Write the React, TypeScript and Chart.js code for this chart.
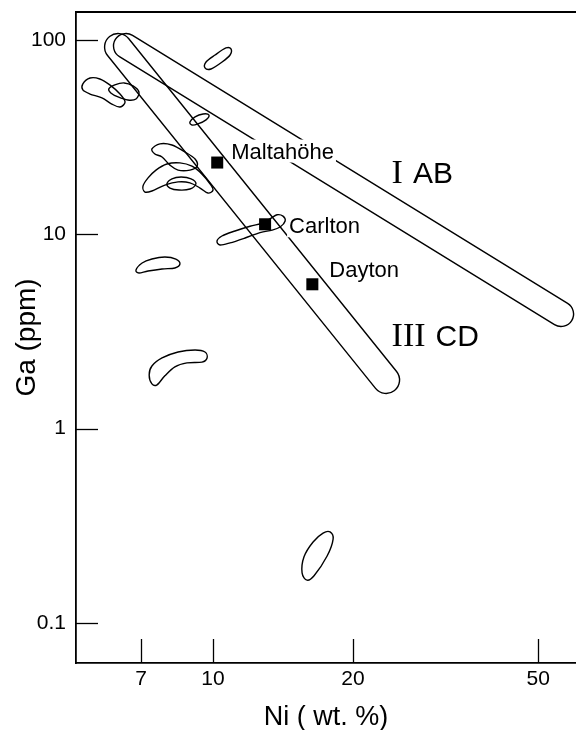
import React, { useEffect, useRef } from "react";
import { Chart, registerables } from "chart.js";

Chart.register(...registerables);

// ---------- data ----------
const niTicks = [7, 10, 20, 50];
const gaTicks = [0.1, 1, 10, 100];
const niRange = [5.075, 60.3];
const gaRange = [0.0622, 139.3];

// named meteorites (black squares)
const siteNames = ["Maltahöhe", "Carlton", "Dayton"];
const siteNi = [10.21, 12.94, 16.35];
const siteGa = [23.4, 11.26, 5.53];

// group trend bands (cap centres at both ends)
const groupRoman = ["I", "III"];
const groupLetters = ["AB", "CD"];
const groupStartNi = [6.5, 6.25];
const groupStartGa = [93.1, 92.0];
const groupEndNi = [56.0, 23.55];
const groupEndGa = [3.89, 1.78];
const groupLabelNi = [24.2, 24.2];
const groupLabelGa = [18.4, 2.65];

// other group fields: outline vertices [Ni, Ga]
const field1 = [[10.93, 89.9], [10.88, 83.7], [10.46, 77.0], [9.9, 70.9], [9.61, 71.8], [9.66, 77.0], [10.1, 83.7], [10.66, 91.0]];
const field2 = [[5.25, 59.4], [5.44, 63.7], [5.71, 63.0], [6.0, 58.7], [6.31, 52.7], [6.47, 48.0], [6.31, 45.2], [6.06, 46.8], [5.77, 50.3], [5.44, 52.7], [5.25, 55.3]];
const field3 = [[5.97, 56.0], [6.15, 58.7], [6.44, 60.1], [6.73, 58.0], [6.93, 54.0], [6.83, 49.7], [6.56, 49.1], [6.25, 50.9], [6.03, 53.4]];
const field4 = [[8.92, 37.8], [9.15, 40.2], [9.52, 41.6], [9.8, 41.1], [9.66, 38.8], [9.28, 37.0], [9.01, 36.5]];
const field5 = [[7.39, 27.5], [7.69, 29.2], [8.16, 28.8], [8.71, 26.5], [9.15, 24.4], [9.24, 22.4], [8.92, 21.4], [8.41, 21.4], [8.08, 22.7], [7.77, 25.0], [7.5, 25.9]];
const field6 = [[7.07, 17.7], [7.25, 19.5], [7.54, 21.4], [7.96, 23.0], [8.49, 23.3], [9.01, 22.4], [9.47, 20.4], [9.85, 18.2], [10.0, 16.9], [9.75, 16.3], [9.38, 17.3], [8.92, 18.4], [8.41, 18.6], [7.88, 17.9], [7.39, 16.7], [7.14, 16.5]];
const field7 = [[7.96, 18.2], [8.16, 19.3], [8.54, 19.7], [8.97, 19.3], [9.19, 18.2], [8.92, 17.1], [8.45, 16.9], [8.08, 17.3]];
const field8 = [[10.2, 9.24], [10.45, 9.8], [11.15, 10.4], [12.01, 11.0], [12.75, 11.4], [13.26, 12.0], [13.73, 12.6], [14.14, 12.4], [14.29, 11.7], [13.94, 10.9], [13.39, 10.5], [12.62, 10.2], [11.72, 9.57], [10.88, 9.03], [10.35, 8.81]];
const field9 = [[6.83, 6.55], [7.04, 7.12], [7.39, 7.46], [7.88, 7.64], [8.32, 7.46], [8.49, 7.04], [8.28, 6.71], [7.77, 6.63], [7.25, 6.47], [6.93, 6.32]];
const field10 = [[7.39, 1.7], [7.29, 1.89], [7.39, 2.1], [7.77, 2.31], [8.41, 2.48], [9.15, 2.54], [9.61, 2.48], [9.71, 2.31], [9.47, 2.2], [8.79, 2.18], [8.28, 2.08], [7.88, 1.87], [7.58, 1.68]];
const field11 = [[17.85, 0.294], [18.12, 0.27], [17.59, 0.221], [16.49, 0.175], [15.93, 0.166], [15.54, 0.181], [15.69, 0.219], [16.41, 0.261], [17.24, 0.29]];
const fields = [field1, field2, field3, field4, field5, field6, field7, field8, field9, field10, field11];

// ---------- styles ----------
const SANS = "'Liberation Sans', Arial, Helvetica, sans-serif";
const SERIF = "'Liberation Serif', 'Times New Roman', serif";
const W = 576;
const H = 730;
const SITE_DX = [14, 24, 17];
const SITE_DY = [-4, 9, -7];
const BAND_R = [12.5, 13.5];
const GROUP_GAP = 10;

const drawPlugin = {
  id: "gaNiFields",
  beforeDatasetsDraw(chart: any) {
    const { ctx, chartArea: a, scales } = chart;
    const x = scales.x;
    const y = scales.y;
    ctx.save();
    ctx.beginPath();
    ctx.rect(a.left, a.top, a.right - a.left, a.bottom - a.top);
    ctx.clip();
    ctx.strokeStyle = "#000";
    ctx.lineWidth = 1.4;
    ctx.lineJoin = "round";
    // bands
    groupStartNi.forEach((_, i) => {
      const ax = x.getPixelForValue(groupStartNi[i]);
      const ay = y.getPixelForValue(groupStartGa[i]);
      const bx = x.getPixelForValue(groupEndNi[i]);
      const by = y.getPixelForValue(groupEndGa[i]);
      const r = BAND_R[i];
      const t = Math.atan2(by - ay, bx - ax);
      ctx.beginPath();
      ctx.arc(ax, ay, r, t + Math.PI / 2, t + (3 * Math.PI) / 2);
      ctx.arc(bx, by, r, t - Math.PI / 2, t + Math.PI / 2);
      ctx.closePath();
      ctx.stroke();
    });
    // fields (closed smooth outlines)
    fields.forEach((f) => {
      const p = f.map(([ni, ga]) => [x.getPixelForValue(ni), y.getPixelForValue(ga)]);
      const n = p.length;
      ctx.beginPath();
      ctx.moveTo(p[0][0], p[0][1]);
      for (let i = 0; i < n; i++) {
        const p0 = p[(i - 1 + n) % n];
        const p1 = p[i];
        const p2 = p[(i + 1) % n];
        const p3 = p[(i + 2) % n];
        ctx.bezierCurveTo(
          p1[0] + (p2[0] - p0[0]) / 6,
          p1[1] + (p2[1] - p0[1]) / 6,
          p2[0] - (p3[0] - p1[0]) / 6,
          p2[1] - (p3[1] - p1[1]) / 6,
          p2[0],
          p2[1]
        );
      }
      ctx.closePath();
      ctx.stroke();
    });
    ctx.restore();
  },
  afterDatasetsDraw(chart: any) {
    const { ctx, scales } = chart;
    const x = scales.x;
    const y = scales.y;
    ctx.save();
    ctx.textBaseline = "alphabetic";
    ctx.textAlign = "left";
    // site labels with white knock-out
    ctx.font = `22px ${SANS}`;
    siteNames.forEach((name, i) => {
      const px = x.getPixelForValue(siteNi[i]) + SITE_DX[i];
      const py = y.getPixelForValue(siteGa[i]) + SITE_DY[i];
      const w = ctx.measureText(name).width;
      ctx.fillStyle = "#fff";
      ctx.fillRect(px - 2, py - 19, w + 4, 23);
      ctx.fillStyle = "#000";
      ctx.fillText(name, px, py);
    });
    // group labels
    groupRoman.forEach((roman, i) => {
      const px = x.getPixelForValue(groupLabelNi[i]);
      const py = y.getPixelForValue(groupLabelGa[i]);
      ctx.fillStyle = "#000";
      ctx.font = `34px ${SERIF}`;
      ctx.fillText(roman, px, py);
      const w = ctx.measureText(roman).width;
      ctx.font = `30px ${SANS}`;
      ctx.fillText(groupLetters[i], px + w + GROUP_GAP, py);
    });
    ctx.restore();
  },
  afterDraw(chart: any) {
    const { ctx, chartArea: a, scales } = chart;
    const x = scales.x;
    const y = scales.y;
    ctx.save();
    ctx.strokeStyle = "#000";
    ctx.lineWidth = 1.3;
    x.ticks.forEach((t: any) => {
      const px = Math.round(x.getPixelForValue(t.value)) + 0.5;
      ctx.beginPath();
      ctx.moveTo(px, a.bottom);
      ctx.lineTo(px, a.bottom - 24);
      ctx.stroke();
    });
    y.ticks.forEach((t: any) => {
      const py = Math.round(y.getPixelForValue(t.value)) + 0.5;
      ctx.beginPath();
      ctx.moveTo(a.left, py);
      ctx.lineTo(a.left + 22, py);
      ctx.stroke();
    });
    ctx.lineWidth = 1.8;
    ctx.beginPath();
    ctx.moveTo(a.left, a.top);
    ctx.lineTo(a.right, a.top);
    ctx.stroke();
    ctx.restore();
  },
};

export default function App() {
  const ref = useRef<HTMLCanvasElement | null>(null);
  useEffect(() => {
    document.body.style.margin = "0";
    const canvas = ref.current;
    if (!canvas) return;
    const chart = new Chart(canvas, {
      type: "scatter",
      data: {
        datasets: [
          {
            label: "meteorites",
            data: siteNi.map((v, i) => ({ x: v, y: siteGa[i] })),
            pointStyle: "rect",
            pointRadius: 8.5,
            pointHoverRadius: 8.5,
            backgroundColor: "#000",
            borderColor: "#000",
            borderWidth: 0,
          },
        ],
      },
      options: {
        responsive: false,
        animation: false,
        events: [],
        layout: { autoPadding: false, padding: { top: 12, left: 0, right: 0, bottom: 0 } },
        plugins: { legend: { display: false }, tooltip: { enabled: false } },
        scales: {
          x: {
            type: "logarithmic",
            position: "bottom",
            min: niRange[0],
            max: niRange[1],
            bounds: "data",
            afterBuildTicks: (s: any) => {
              s.ticks = niTicks.map((v) => ({ value: v }));
            },
            afterFit: (s: any) => {
              s.height = 67;
              s.paddingLeft = 0;
              s.paddingRight = 0;
            },
            grid: { display: false, drawTicks: false },
            border: { display: true, color: "#000", width: 1.8 },
            ticks: {
              color: "#000",
              font: { family: SANS, size: 21 },
              padding: 4,
              maxRotation: 0,
              autoSkip: false,
              callback: (v: any) => String(v),
            },
            title: {
              display: true,
              text: "Ni ( wt. %)",
              color: "#000",
              font: { family: SANS, size: 27, lineHeight: 1 },
              padding: { top: 0, bottom: -1 },
            },
          },
          y: {
            type: "logarithmic",
            position: "left",
            min: gaRange[0],
            max: gaRange[1],
            bounds: "data",
            afterBuildTicks: (s: any) => {
              s.ticks = gaTicks.map((v) => ({ value: v }));
            },
            afterFit: (s: any) => {
              s.width = 76;
              s.paddingTop = 0;
              s.paddingBottom = 0;
            },
            grid: { display: false, drawTicks: false },
            border: { display: true, color: "#000", width: 1.8 },
            ticks: {
              color: "#000",
              font: { family: SANS, size: 21 },
              padding: 10,
              autoSkip: false,
              callback: (v: any) => String(v),
            },
            title: {
              display: true,
              text: "Ga (ppm)",
              color: "#000",
              font: { family: SANS, size: 28, lineHeight: 1 },
              padding: { top: 13, bottom: 0 },
            },
          },
        },
      },
      plugins: [drawPlugin],
    } as any);
    return () => chart.destroy();
  }, []);
  return (
    <div style={{ position: "fixed", left: 0, top: 0, width: W, height: H, background: "#fff" }}>
      <canvas ref={ref} width={W} height={H} style={{ display: "block", width: W, height: H }} />
    </div>
  );
}
